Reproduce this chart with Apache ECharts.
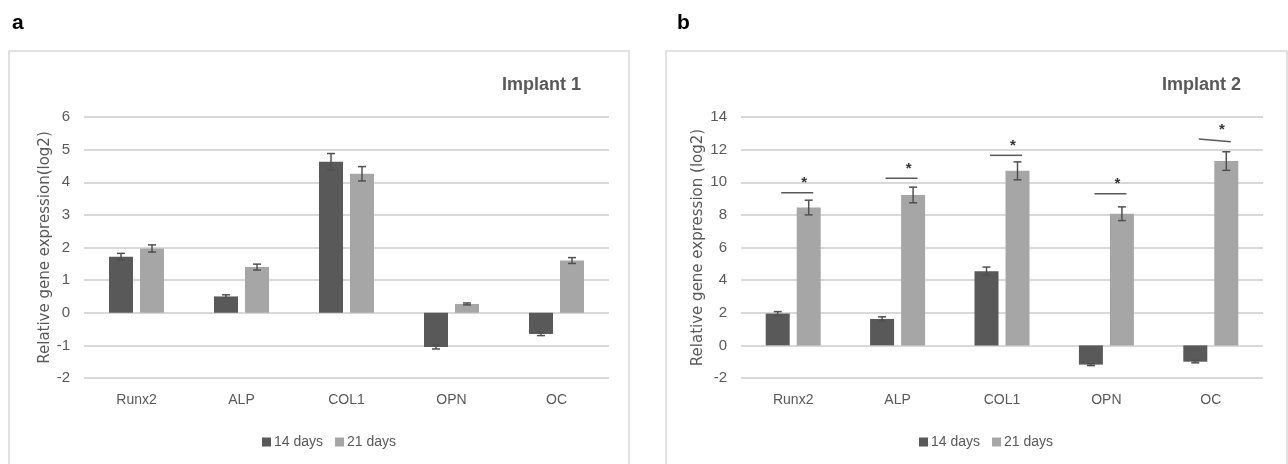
<!DOCTYPE html>
<html lang="en">
<head>
<meta charset="UTF-8">
<title>Relative gene expression - Implant 1 / Implant 2</title>
<script src="https://cdn.jsdelivr.net/npm/echarts@6/dist/echarts.min.js"></script>
<style>
	html, body { margin:0; padding:0; background:#fff; }
	#wrap { position:relative; width:1288px; height:464px; overflow:hidden; }
	.panel { position:absolute; top:0; width:644px; height:464px; }
	#chartA { left:0; }
	#chartB { left:644px; }
</style>
<script>
	// data
	var categories = ['Runx2', 'ALP', 'COL1', 'OPN', 'OC'];
	var seriesNames = ['14 days', '21 days'];

	var implant1Day14 = [1.72, 0.50, 4.63, -1.05, -0.65];
	var implant1Day14Err = [0.10, 0.05, 0.25, 0.06, 0.05];
	var implant1Day21 = [1.97, 1.40, 4.26, 0.27, 1.60];
	var implant1Day21Err = [0.11, 0.09, 0.22, 0.03, 0.09];

	var implant2Day14 = [1.95, 1.62, 4.55, -1.18, -1.00];
	var implant2Day14Err = [0.12, 0.13, 0.25, 0.06, 0.07];
	var implant2Day21 = [8.45, 9.22, 10.70, 8.07, 11.30];
	var implant2Day21Err = [0.45, 0.48, 0.55, 0.42, 0.57];

	// significance bars (left / right end of the line) over implant 2
	var implant2SigLeft = [9.36, 10.25, 11.65, 9.30, 12.65];
	var implant2SigRight = [9.36, 10.25, 11.65, 9.30, 12.48];

	// y axis ticks: [min, max, step]
	var implant1Ticks = [-2, 6, 1];
	var implant2Ticks = [-2, 14, 2];
</script>
</head>
<body>
<div id="wrap">
	<div id="chartA" class="panel"></div>
	<div id="chartB" class="panel"></div>
</div>
<script>
	var DARK = '#595959';
	var LIGHT = '#a6a6a6';
	var TXT = '#595959';
	var GRID = '#d9d9d9';
	var SANS = "'Liberation Sans', sans-serif";
	var BAR_W = 24;
	var BAR_GAP = 7;
	var HALF = (BAR_W + BAR_GAP) / 2;

	/* error bar drawn at the bar's x position */
	function errorBars(offset) {
		return function (params, api) {
			var i = api.value(0), v = api.value(1), e = api.value(2);
			var top = api.coord([i, v + e]);
			var bot = api.coord([i, v - e]);
			var x = top[0] + offset;
			var st = { stroke: '#505050', lineWidth: 1.5 };
			return {
				type: 'group',
				children: [
					{ type: 'line', shape: { x1: x, y1: top[1], x2: x, y2: bot[1] }, style: st },
					{ type: 'line', shape: { x1: x - 4, y1: top[1], x2: x + 4, y2: top[1] }, style: st },
					{ type: 'line', shape: { x1: x - 4, y1: bot[1], x2: x + 4, y2: bot[1] }, style: st }
				]
			};
		};
	}

	/* significance line with asterisk */
	function sigMarks(params, api) {
		var i = api.value(0);
		var pl = api.coord([i, api.value(1)]);
		var pr = api.coord([i, api.value(2)]);
		var c = pl[0];
		return {
			type: 'group',
			children: [
				{ type: 'line', shape: { x1: c - 12, y1: pl[1], x2: c + 20, y2: pr[1] },
				  style: { stroke: '#595959', lineWidth: 1.5 } },
				{ type: 'text', x: c + 11, y: Math.min(pl[1], pr[1]) - 2,
				  style: { text: '*', fill: '#333', font: 'bold 15px ' + SANS, align: 'center', verticalAlign: 'bottom' } }
			]
		};
	}

	function triples(vals, errs) {
		return categories.map(function (c, i) { return [i, vals[i], errs[i]]; });
	}

	function makePanel(dom, cfg) {
		var chart = echarts.init(dom, null, { renderer: 'canvas' });
		var series = [
			{
				name: seriesNames[0], type: 'bar', barWidth: BAR_W, barGap: (BAR_GAP / BAR_W * 100) + '%',
				itemStyle: { color: DARK }, data: cfg.d14, z: 2
			},
			{
				name: seriesNames[1], type: 'bar', barWidth: BAR_W,
				itemStyle: { color: LIGHT }, data: cfg.d21, z: 2
			},
			{
				type: 'custom', renderItem: errorBars(-HALF), data: triples(cfg.d14, cfg.e14),
				encode: { x: 0, y: 1 }, z: 3, silent: true
			},
			{
				type: 'custom', renderItem: errorBars(HALF), data: triples(cfg.d21, cfg.e21),
				encode: { x: 0, y: 1 }, z: 3, silent: true
			}
		];
		if (cfg.sigL) {
			series.push({
				type: 'custom', renderItem: sigMarks,
				data: triples(cfg.sigL, cfg.sigR),
				encode: { x: 0, y: 1 }, z: 3, silent: true
			});
		}

		chart.setOption({
			animation: false,
			graphic: [
				{ type: 'rect', shape: { x: cfg.boxX, y: 51, width: cfg.boxW, height: 440 },
				  style: { fill: 'none', stroke: '#d9d9d9', lineWidth: 1.5 }, z: -1 },
				{ type: 'text', left: cfg.letterX, top: 13,
				  style: { text: cfg.letter, font: 'bold 21px ' + SANS, fill: '#000' } },
				{ type: 'text', left: cfg.titleX, top: 76,
				  style: { text: cfg.title, font: 'bold 18px ' + SANS, fill: '#595959' } }
			],
			legend: {
				data: seriesNames,
				left: cfg.legendX,
				top: 430,
				icon: 'rect',
				itemWidth: 9,
				itemHeight: 9,
				itemGap: 12,
				textStyle: { color: TXT, fontFamily: SANS, fontSize: 14, padding: [0, 0, 0, -2] }
			},
			grid: { left: cfg.gridL, right: cfg.gridR, top: 117, bottom: 86 },
			xAxis: {
				type: 'category',
				data: categories,
				axisTick: { show: false },
				axisLine: { onZero: false, show: false },
				axisLabel: { color: TXT, fontFamily: SANS, fontSize: 14, margin: 15 }
			},
			yAxis: {
				type: 'value',
				min: cfg.ticks[0],
				max: cfg.ticks[1],
				interval: cfg.ticks[2],
				name: cfg.yName,
				nameLocation: 'middle',
				nameGap: cfg.nameGap,
				nameMoveOverlap: false,
				nameTextStyle: { color: TXT, fontFamily: 'DejaVu Sans', fontSize: 15 },
				axisLine: { show: false },
				axisTick: { show: false },
				axisLabel: { color: TXT, fontFamily: SANS, fontSize: 15, margin: 14 },
				splitLine: { lineStyle: { color: GRID, width: 2 } }
			},
			series: series
		});
		return chart;
	}

	makePanel(document.getElementById('chartA'), {
		letter: 'a', letterX: 12, title: 'Implant 1', titleX: 502,
		boxX: 9, boxW: 620, gridL: 84, gridR: 35, legendX: 257,
		ticks: implant1Ticks, yName: 'Relative gene expression(log2)', nameGap: 31,
		d14: implant1Day14, e14: implant1Day14Err, d21: implant1Day21, e21: implant1Day21Err
	});

	makePanel(document.getElementById('chartB'), {
		letter: 'b', letterX: 33, title: 'Implant 2', titleX: 518,
		boxX: 22, boxW: 621, gridL: 97, gridR: 25, legendX: 270,
		ticks: implant2Ticks, yName: 'Relative gene expression (log2)', nameGap: 35,
		d14: implant2Day14, e14: implant2Day14Err, d21: implant2Day21, e21: implant2Day21Err,
		sigL: implant2SigLeft, sigR: implant2SigRight
	});
</script>
</body>
</html>
